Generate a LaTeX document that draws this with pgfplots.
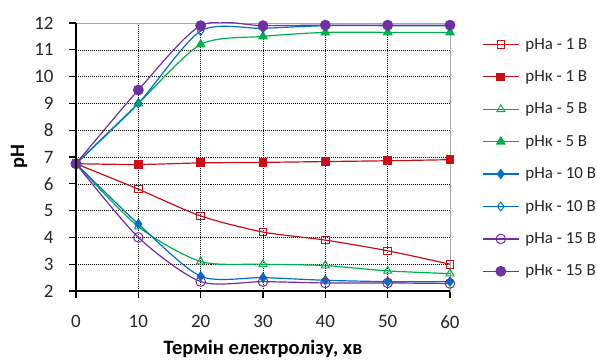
\documentclass[border=0pt]{standalone}
\usepackage{pgfplots}
\pgfplotsset{compat=1.18}
\usepackage{fontspec}
\setmainfont{Carlito}
\definecolor{cred}{RGB}{200,16,24}
\definecolor{cgreen}{RGB}{0,176,80}
\definecolor{cblue}{RGB}{0,112,192}
\definecolor{cpurple}{RGB}{112,48,160}
\begin{document}
\begin{tikzpicture}
\path[use as bounding box] (-76bp,-69bp) rectangle (521bp,23bp+268bp);
\begin{axis}[
  at={(0,0)}, anchor=south west,
  scale only axis, width=374bp, height=268bp,
  xmin=0, xmax=60, ymin=2, ymax=12,
  xtick={0,10,...,60}, ytick={2,3,...,12},
  /pgf/number format/assume math mode=true,
  ticklabel style={font=\fontsize{19}{22}\selectfont, text=black!85},
  xticklabel style={yshift=-14bp},
  yticklabel style={xshift=-12bp},
  xtick pos=left, ytick pos=left, tick align=outside,
  major tick length=7bp,
  tick style={black, line width=1.2pt},
  axis line style={gray!70, line width=0.6pt},
  grid=major,
  major grid style={black, line width=0.5pt, dash pattern=on 1pt off 1pt},
  xlabel={\bfseries Термін електролізу, хв},
  ylabel={\bfseries pH},
  label style={font=\fontsize{20.5}{23}\selectfont\bfseries},
  xlabel style={yshift=-5bp},
  ylabel style={yshift=0bp},
  legend style={at={(1.0856,0.951)}, anchor=north west, draw=none, fill=none,
     font=\fontsize{17}{20}\selectfont, text=black!85,
     row sep=16bp, inner sep=0pt},
  legend cell align=left,
  legend image code/.code={\draw[mark repeat=2, mark phase=2] plot coordinates {(0bp,0bp) (18bp,0bp) (36bp,0bp)};},
  every axis plot/.append style={line width=1.2pt, smooth, tension=0.45},
  after end axis/.code={\draw[black, line width=1.5pt] (rel axis cs:0,1) -- (rel axis cs:0,0) -- (rel axis cs:1,0);},
]
\addplot[cred, mark=square, mark size=3.8bp, mark options={fill=white, line width=1pt}] coordinates {(0,6.75) (10,5.8) (20,4.8) (30,4.2) (40,3.9) (50,3.5) (60,3.0)};
\addlegendentry{\hspace{4bp}pHa - 1 B}
\addplot[cred, mark=square*, mark size=3.8bp, mark options={fill=cred}] coordinates {(0,6.75) (10,6.72) (20,6.78) (30,6.8) (40,6.83) (50,6.86) (60,6.9)};
\addlegendentry{\hspace{4bp}pHк - 1 B}
\addplot[cgreen, mark=triangle, mark size=4.6bp, mark options={fill=white, line width=1pt}] coordinates {(0,6.75) (10,4.4) (20,3.1) (30,3.0) (40,2.95) (50,2.75) (60,2.65)};
\addlegendentry{\hspace{4bp}pHa - 5 B}
\addplot[cgreen, mark=triangle*, mark size=4.6bp, mark options={fill=cgreen}] coordinates {(0,6.75) (10,9.0) (20,11.2) (30,11.5) (40,11.65) (50,11.65) (60,11.65)};
\addlegendentry{\hspace{4bp}pHк - 5 B}
\addplot[cblue, mark=diamond*, mark size=4.4bp, mark options={fill=cblue}] coordinates {(0,6.75) (10,4.5) (20,2.55) (30,2.5) (40,2.4) (50,2.35) (60,2.35)};
\addlegendentry{\hspace{4bp}pHa - 10 B}
\addplot[cblue, mark=diamond, mark size=4.4bp, mark options={fill=white, line width=1pt}] coordinates {(0,6.75) (10,9.0) (20,11.7) (30,11.8) (40,11.9) (50,11.9) (60,11.9)};
\addlegendentry{\hspace{4bp}pHк - 10 B}
\addplot[cpurple, mark=o, mark size=4.8bp, mark options={fill=white, line width=1pt}] coordinates {(0,6.75) (10,4.0) (20,2.35) (30,2.35) (40,2.3) (50,2.3) (60,2.28)};
\addlegendentry{\hspace{4bp}pHa - 15 B}
\addplot[cpurple, mark=*, mark size=4.8bp, mark options={fill=cpurple}] coordinates {(0,6.75) (10,9.5) (20,11.9) (30,11.9) (40,11.92) (50,11.92) (60,11.92)};
\addlegendentry{\hspace{4bp}pHк - 15 B}
\end{axis}
\end{tikzpicture}
\end{document}
